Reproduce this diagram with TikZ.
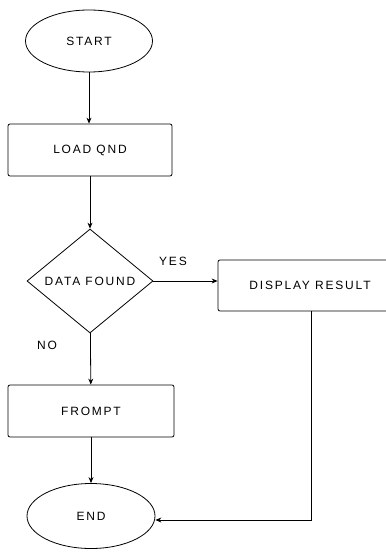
\documentclass[tikz,border=0pt]{standalone}
\usepackage{fontspec}
\setmainfont{Liberation Sans}[LetterSpace=15]
\usetikzlibrary{shapes.geometric,arrows.meta}

\tikzset{
    terminal/.style={ellipse, draw=black, line width=0.8pt, inner sep=0pt, minimum width=127pt, minimum height=62pt, font=\fontsize{12}{12}\selectfont},
    process/.style={rectangle, rounded corners=2pt, draw=black, line width=0.8pt, minimum height=52pt, font=\fontsize{12}{12}\selectfont},
    decision/.style={diamond, draw=black, line width=0.8pt, inner sep=0pt, minimum width=126pt, minimum height=104pt, font=\fontsize{12}{12}\selectfont},
    flow/.style={line width=0.8pt, -{Stealth[length=6pt,width=5pt]}},
    branch/.style={font=\fontsize{12}{12}\selectfont}
}

\begin{document}
\begin{tikzpicture}[x=1pt, y=-1pt]
    \useasboundingbox (0,0) rectangle (385,553);

    \node[terminal] (start) at (89,41) {START};

    \node[process, minimum width=164pt] (load) at (90,150) {LOAD QND};

    \node[decision] (found) at (90,281) {DATA FOUND};

    \node[process, minimum width=184pt, minimum height=51pt] (display) at (310,285.5) {DISPLAY RESULT};

    \node[process, minimum width=166pt] (prompt) at (91,411) {FROMPT};

    \node[terminal, minimum width=128pt, minimum height=65pt] (finish) at (91,516) {END};

    \node[branch] (yes) at (173,261) {YES};
    \node[branch] (no) at (47,345) {NO};

    \coordinate (turn) at (311,520);

    \draw[flow] (start) -- (start |- load.north);
    \draw[flow] (load) -- (found);
    \draw[flow] (found.east) -- (found.east -| display.west);
    \draw[flow] (found) -- (prompt);
    \draw[flow] (prompt) -- (finish);
    \draw[flow] (display.south -| turn) -- (turn) -- (turn -| finish.east);

\end{tikzpicture}
\end{document}
